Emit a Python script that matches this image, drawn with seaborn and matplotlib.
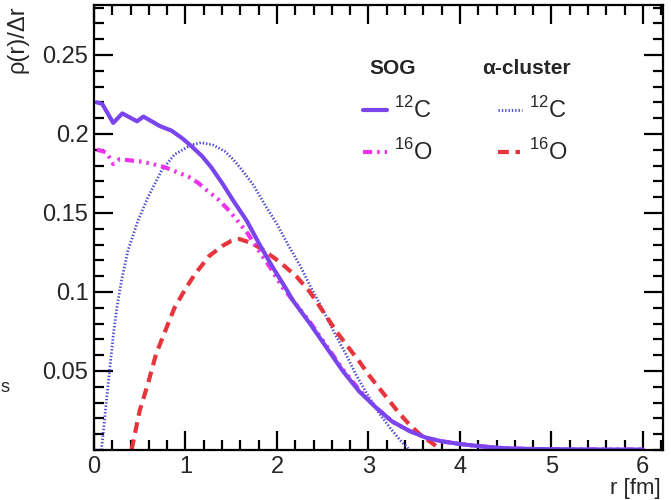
import numpy as np
import pandas as pd
import matplotlib
matplotlib.use("Agg")
import matplotlib.pyplot as plt
import seaborn as sns
from matplotlib.ticker import MultipleLocator

sns.set_theme(style="white")
plt.rcParams['font.family'] = ['Liberation Sans', 'DejaVu Sans']
plt.rcParams['mathtext.fontset'] = 'custom'
plt.rcParams['mathtext.rm'] = 'Liberation Sans'

# SOG 12C (solid purple)
sog_c_r = [0.03, 0.09, 0.21, 0.31, 0.47, 0.54, 0.72, 0.85, 0.97, 1.07, 1.18, 1.28, 1.40, 1.52, 1.67, 1.81, 1.95,
           2.10, 2.17, 2.36, 2.54, 2.72, 2.90, 3.08, 3.26, 3.45, 3.63, 3.80, 4.0, 4.2, 4.46, 4.8, 5.2, 5.6, 6.0]
sog_c_rho = [0.220, 0.219, 0.207, 0.213, 0.208, 0.211, 0.205, 0.202, 0.197, 0.192, 0.186, 0.179, 0.169, 0.158,
             0.145, 0.130, 0.116, 0.102, 0.095, 0.080, 0.065, 0.050, 0.037, 0.027, 0.018, 0.012, 0.0078, 0.0055,
             0.0038, 0.0025, 0.0012, 0.0006, 0.0004, 0.0003, 0.0003]

# SOG 16O (magenta dash-dot-dot)
sog_o_r = [0.03, 0.10, 0.14, 0.21, 0.28, 0.52, 0.64, 0.77, 0.90, 1.03, 1.14, 1.24, 1.35, 1.46, 1.57, 1.68, 1.78,
           1.92, 2.06, 2.17, 2.36, 2.54, 2.72, 2.90, 3.08, 3.26, 3.45, 3.63, 3.80, 4.0, 4.2, 4.46, 4.8, 5.2, 5.6, 6.0]
sog_o_rho = [0.190, 0.189, 0.188, 0.181, 0.184, 0.1825, 0.181, 0.179, 0.176, 0.173, 0.169, 0.164, 0.159, 0.1525,
             0.145, 0.137, 0.128, 0.116, 0.103, 0.095, 0.081, 0.066, 0.051, 0.038, 0.027, 0.018, 0.012, 0.0078,
             0.0055, 0.0038, 0.0025, 0.0012, 0.0006, 0.0004, 0.0003, 0.0003]

# alpha-cluster 12C (blue dotted)
alp_c_r = [0.08, 0.10, 0.13, 0.17, 0.21, 0.25, 0.30, 0.37, 0.48, 0.59, 0.74, 0.88, 1.06, 1.17, 1.30, 1.43, 1.52,
           1.62, 1.75, 1.87, 2.00, 2.12, 2.25, 2.37, 2.50, 2.62, 2.75, 2.87, 3.00, 3.12, 3.25, 3.35, 3.45]
alp_c_rho = [0.0, 0.010, 0.028, 0.050, 0.072, 0.090, 0.107, 0.126, 0.145, 0.160, 0.177, 0.187, 0.193, 0.1945,
             0.193, 0.189, 0.184, 0.177, 0.167, 0.155, 0.143, 0.130, 0.117, 0.103, 0.089, 0.075, 0.061, 0.047,
             0.034, 0.023, 0.013, 0.006, 0.0]

# alpha-cluster 16O (red dashed)
alp_o_r = [0.41, 0.50, 0.59, 0.68, 0.79, 0.88, 1.00, 1.10, 1.26, 1.40, 1.50, 1.59, 1.72, 1.84, 2.03, 2.21, 2.36,
           2.50, 2.65, 2.78, 2.90, 3.01, 3.12, 3.23, 3.34, 3.45, 3.56, 3.68, 3.80]
alp_o_rho = [0.0, 0.025, 0.042, 0.061, 0.077, 0.090, 0.102, 0.111, 0.1228, 0.129, 0.1323, 0.1335, 0.131, 0.127,
             0.119, 0.110, 0.100, 0.088, 0.075, 0.065, 0.056, 0.047, 0.039, 0.031, 0.023, 0.016, 0.010, 0.005, 0.0]

x_ticks = [0, 1, 2, 3, 4, 5, 6]
y_ticks = [0.05, 0.1, 0.15, 0.2, 0.25]
y_tick_labels = ["0.05", "0.1", "0.15", "0.2", "0.25"]

c_sog_c = "#7B45EE"
c_sog_o = "#EE33EE"
c_alp_c = "#4A4AD0"
c_alp_o = "#E8343C"

fig = plt.figure(figsize=(6.71, 5.0), dpi=100)
ax = fig.add_axes([94/671, 1-450/500, (663-94)/671, (450-5)/500])

sty_sog_c = '-'
sty_sog_o = (0, (2.2, 1.2, 0.6, 1.2, 0.6, 1.2, 0.6, 1.2))
sty_alp_c = (0, (0.5, 0.7))
sty_alp_o = (0, (2.6, 1.6))

sns.lineplot(x=alp_c_r, y=alp_c_rho, ax=ax, color=c_alp_c, lw=2.0, linestyle=sty_alp_c, estimator=None, sort=False)
sns.lineplot(x=alp_o_r, y=alp_o_rho, ax=ax, color=c_alp_o, lw=3.0, linestyle=sty_alp_o, estimator=None, sort=False)
sns.lineplot(x=sog_o_r, y=sog_o_rho, ax=ax, color=c_sog_o, lw=3.0, linestyle=sty_sog_o, estimator=None, sort=False)
sns.lineplot(x=sog_c_r, y=sog_c_rho, ax=ax, color=c_sog_c, lw=3.0, linestyle=sty_sog_c, estimator=None, sort=False)

ax.set_xlim(0, 6.22)
ax.set_ylim(0, 0.2816)
ax.set_xticks(x_ticks)
ax.set_xticklabels([str(t) for t in x_ticks])
ax.set_yticks(y_ticks)
ax.set_yticklabels(y_tick_labels)
ax.xaxis.set_minor_locator(MultipleLocator(0.2))
ax.yaxis.set_minor_locator(MultipleLocator(0.01))
ax.tick_params(which='both', direction='in', top=True, right=True, bottom=True, left=True,
               color='black', width=1.6, labelsize=17, pad=4)
ax.tick_params(which='major', length=14)
ax.tick_params(which='minor', length=7)
ax.tick_params(axis='x', pad=4)
for s in ax.spines.values():
    s.set_visible(True)
    s.set_color('black')
    s.set_linewidth(1.6)
ax.grid(False)
ax.set_xlabel("")
ax.set_ylabel("")

fig.text(661/671, 1-499/500, "r [fm]", ha='right', va='bottom', fontsize=16)
fig.text(18/671, 1-5/500, "ρ(r)/Δr", ha='center', va='top', rotation=90, fontsize=17)
fig.text(5/671, 1-387/500, "s", ha='center', va='center', fontsize=13)

# legend
fig.text(393/671, 1-68/500, "SOG", ha='center', va='center', fontsize=15, fontweight='bold')
fig.text(526/671, 1-68/500, "α-cluster", ha='center', va='center', fontsize=15, fontweight='bold')
legend_rows = [
    (363, 387, 110, c_sog_c, sty_sog_c, 3.0, r"$^{12}$C", 394),
    (363, 387, 152, c_sog_o, sty_sog_o, 3.0, r"$^{16}$O", 394),
    (498, 522, 110, c_alp_c, sty_alp_c, 2.0, r"$^{12}$C", 529),
    (498, 520, 152, c_alp_o, sty_alp_o, 3.0, r"$^{16}$O", 529),
]
for x0, x1, yy, col, ls, lw, lab, tx in legend_rows:
    fig.add_artist(matplotlib.lines.Line2D([x0/671, x1/671], [1-yy/500, 1-yy/500], color=col,
                                           lw=lw, linestyle=ls, transform=fig.transFigure))
    fig.text(tx/671, 1-yy/500, lab, ha='left', va='center', fontsize=17)

fig.savefig("out.png", dpi=100)
